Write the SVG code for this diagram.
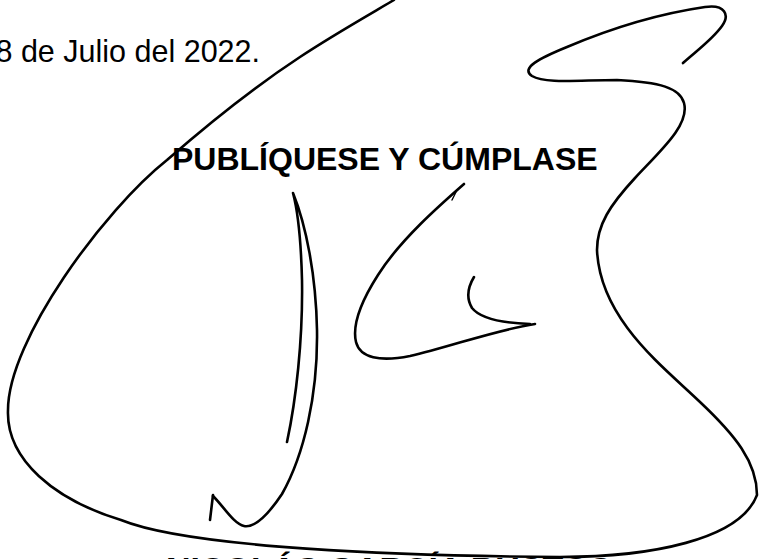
<svg xmlns="http://www.w3.org/2000/svg" width="762" height="559" viewBox="0 0 762 559">
  <style>
    .txt { font-family: "Liberation Sans", Arial, sans-serif; fill: #000; }
    .bold { font-weight: bold; }
    .ink { fill: none; stroke: #000; stroke-width: 2.6; stroke-linecap: round; stroke-linejoin: round; }
    .thin { fill: none; stroke: #000; stroke-width: 1.4; stroke-linecap: round; }
  </style>
  <rect x="0" y="0" width="762" height="559" fill="#fff"/>

  <g id="date">
    <text class="txt" x="260" y="62" font-size="30.5" text-anchor="end">8 de Julio del 2022.</text>
  </g>

  <g id="title">
    <text class="txt bold" x="172" y="170" font-size="32">PUBLÍQUESE Y CÚMPLASE</text>
  </g>

  <g id="name">
    <text class="txt bold" x="166" y="581" font-size="34">NICOLÁS GARCÍA BUSTOS</text>
  </g>

  <g id="signature">
    <path class="ink" d="M394,0 C360,20 330,37 300,57 C265,80 215,118 167,160 C104,210 8,340 8,410 C6,460 55,500 121,520 C190,548 400,556 560,557 C650,557 740,540 757,495 C757,462 735,435 700,402 C665,368 600,320 597,250 C597,225 610,205 635,178 C660,151 690,125 684,103 C680,88 660,82 617,80 C580,80 545,84 532,76 C520,68 540,58 567,47 C600,33 650,15 705,7 C725,4 730,15 722,26 C712,40 695,52 683,63"/>
    <path class="ink" d="M287,442 C296,400 303,340 302,280 C301,240 298,212 293,193 C306,225 316,275 317,330 C318,395 304,455 282,494 C268,515 255,528 244,526 C234,524 224,507 213,496"/>
    <path class="ink" d="M213,495 L210,520"/>
    <path class="ink" d="M464,184 C440,205 400,240 378,275 C362,300 352,325 356,342 C360,358 380,362 410,356 C450,347 495,330 535,324"/>
    <path class="ink" d="M530,324 C500,323 480,318 472,308 C466,298 468,287 474,277"/>
    <path class="thin" d="M457,190 L452,200"/>
  </g>
</svg>
